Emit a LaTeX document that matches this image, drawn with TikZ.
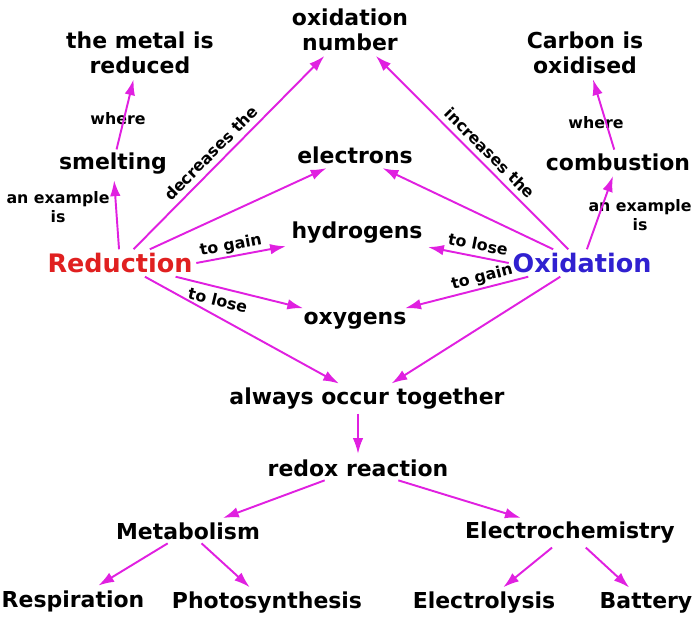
\documentclass[tikz,border=0pt]{standalone}
\usepackage{fontspec}
\setmainfont{DejaVu Sans}
\usetikzlibrary{arrows.meta}
\definecolor{linkc}{HTML}{E020E0}
\definecolor{redc}{HTML}{E02020}
\definecolor{bluec}{HTML}{3020D0}
\begin{document}
\begin{tikzpicture}[
  x=0.02cm, y=-0.02cm,
  concept/.style={font=\bfseries\fontsize{12.5}{14}\selectfont, align=center, inner sep=2pt},
  link/.style={font=\bfseries\fontsize{9}{10.5}\selectfont, align=center, inner sep=1pt, text=black},
  arrow/.style={-{Latex[length=9pt,width=6pt]}, linkc, line width=1.1pt, shorten >=1pt}
]
\useasboundingbox (0,0) rectangle (700,641);

% concepts
\node[concept] (metal) at (140,53) {the metal is\\reduced};
\node[concept] (oxnum) at (350,30) {oxidation\\number};
\node[concept] (carbon) at (585,53) {Carbon is\\oxidised};
\node[concept] (smelting) at (113,164) {smelting};
\node[concept] (combustion) at (618,162) {combustion};
\node[concept, text=redc, font=\bfseries\fontsize{14.5}{16}\selectfont] (reduction) at (120,263) {Reduction};
\node[concept, text=bluec, font=\bfseries\fontsize{14.5}{16}\selectfont] (oxidation) at (582,263) {Oxidation};
\node[concept] (electrons) at (355,155) {electrons};
\node[concept] (hydrogens) at (357,233) {hydrogens};
\node[concept] (oxygens) at (355,321) {oxygens};
\node[concept] (always) at (367,399) {always occur together};
\node[concept] (redox) at (358,468) {redox reaction};
\node[concept] (metabolism) at (188,531) {Metabolism};
\node[concept] (electrochem) at (570,533) {Electrochemistry};
\node[concept] (respiration) at (73,601) {Respiration};
\node[concept] (photo) at (267,603) {Photosynthesis};
\node[concept] (electrolysis) at (484,603) {Electrolysis};
\node[concept] (battery) at (646,603) {Battery};

% plain link labels
\node[link] (where1) at (118,119) {where};
\node[link] (where2) at (596,123) {where};
\node[link] (example1) at (58,207) {an example\\is};
\node[link] (example2) at (640,215) {an example\\is};

% connectors
\draw[arrow] (reduction) -- (smelting);
\draw[arrow] (smelting) -- (metal);
\draw[arrow] (reduction) -- node[link, sloped, above=2pt, pos=.45]{decreases the} (oxnum);
\draw[arrow] (reduction) -- (electrons);
\draw[arrow] (reduction.east) -- node[link, sloped, above, pos=.4]{to gain} (hydrogens);
\draw[arrow] (reduction) -- node[link, sloped, below=2pt, pos=.35]{to lose} (oxygens);
\draw[arrow] (reduction) -- (always);
\draw[arrow] (oxidation) -- (combustion);
\draw[arrow] (combustion) -- (carbon);
\draw[arrow] (oxidation) -- node[link, sloped, above=2pt, pos=.45]{increases the} (oxnum);
\draw[arrow] (oxidation) -- (electrons);
\draw[arrow] (oxidation.west) -- node[link, sloped, above=2pt, pos=.4]{to lose} (hydrogens);
\draw[arrow] (oxidation) -- node[link, sloped, above, pos=.35]{to gain} (oxygens);
\draw[arrow] (oxidation) -- (always);
\draw[arrow] (always.south -| redox) -- (redox);
\draw[arrow] (redox) -- (metabolism);
\draw[arrow] (redox) -- (electrochem);
\draw[arrow] (metabolism) -- (respiration);
\draw[arrow] (metabolism) -- (photo);
\draw[arrow] (electrochem) -- (electrolysis);
\draw[arrow] (electrochem) -- (battery);
\end{tikzpicture}
\end{document}
